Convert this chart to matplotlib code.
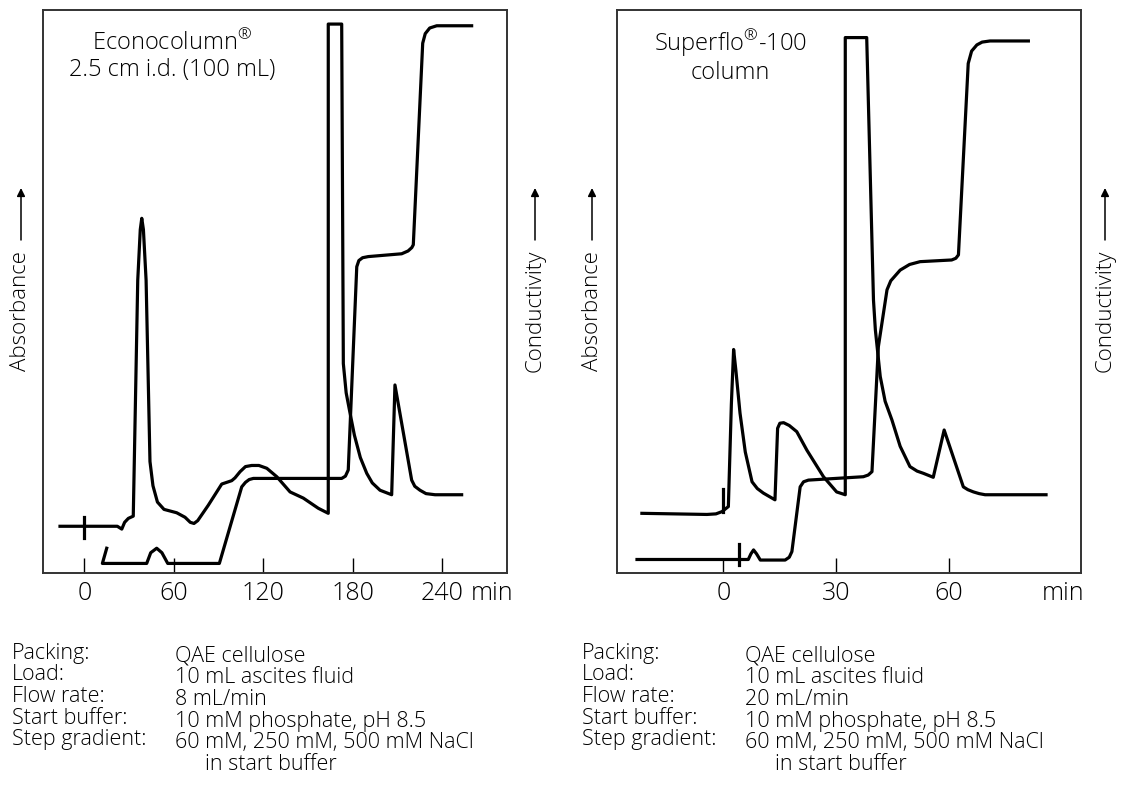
import numpy as np
import matplotlib
matplotlib.use("Agg")
import matplotlib.pyplot as plt

plt.rcParams['font.family'] = ['Open Sans', 'DejaVu Sans']
plt.rcParams['font.weight'] = 'light'
plt.rcParams['mathtext.fontset'] = 'custom'
plt.rcParams['mathtext.rm'] = 'Open Sans:light'

# ---------------------------------------------------------------
# data (time in min, signal in % of axis)
# ---------------------------------------------------------------
# Econocolumn
econo_abs_t = [-16.3, 22.1, 25.1, 27.0, 29.5, 32.8, 35.8, 37.5, 38.5, 39.6, 41.4, 44.0, 46.0, 49.0,
               53.4, 61.9, 67.5, 71.0, 73.5, 76.0, 83.0, 92.1, 98.8, 101.0, 104.4, 108.0, 112.2,
               117.0, 122.3, 129.0, 137.9, 146.8, 156.8, 163.5,
               163.5, 172.5, 173.4, 173.6, 175.5, 178.1, 181.0, 185.0, 189.3, 193.0, 198.2, 206.0,
               208.2, 219.4, 221.5, 225.0, 229.0, 235.1, 252.9]
econo_abs = [8.3, 8.3, 7.8, 9.0, 9.7, 10.1, 52.0, 61.0, 63.0, 61.0, 52.0, 19.8, 15.5, 12.6,
             11.3, 10.7, 9.9, 9.0, 8.8, 9.3, 12.0, 15.8, 16.4, 16.9, 18.0, 18.9, 19.1,
             19.1, 18.6, 17.1, 14.4, 13.3, 11.5, 10.6,
             97.5, 97.5, 48.5, 37.2, 32.0, 28.4, 24.5, 20.5, 17.7, 16.0, 14.7, 13.9,
             33.4, 16.5, 15.4, 14.7, 14.1, 13.9, 13.9]

econo_cond_t = [15.0, 12.1, 41.8, 44.5, 48.5, 52.0, 55.9, 90.5, 105.5, 108.0, 110.5, 113.3,
                172.5, 175.0, 176.9, 182.6, 184.0, 186.5, 190.3, 212.7, 217.0, 219.5,
                220.5, 226.8, 228.5, 231.5, 236.2, 259.6]
econo_cond = [4.4, 1.7, 1.7, 3.6, 4.4, 3.6, 1.7, 1.7, 15.3, 16.1, 16.6, 16.8,
              16.8, 17.2, 18.3, 54.4, 55.5, 56.0, 56.2, 56.7, 57.2, 57.8,
              58.3, 94.1, 95.8, 96.8, 97.2, 97.2]

# Superflo-100
super_abs_t = [-21.7, -4.4, -2.0, -0.4, 1.3, 2.1, 2.7, 3.3, 4.4, 5.8, 7.6, 9.0, 10.6, 13.7,
               14.4, 15.0, 16.0, 17.5, 19.5, 22.2, 26.6, 30.1, 32.4,
               32.4, 38.1, 39.9, 40.4, 41.7, 43.0, 44.8, 47.0, 49.6, 51.5, 53.2, 55.8,
               58.7, 63.8, 65.0, 66.5, 68.0, 69.6, 85.8]
super_abs = [10.6, 10.4, 10.5, 10.9, 11.8, 30.0, 39.7, 36.0, 28.4, 21.5, 16.2, 15.0, 14.2, 13.0,
             25.7, 26.6, 26.7, 26.2, 25.1, 21.8, 17.1, 14.4, 13.9,
             95.1, 95.1, 48.5, 43.2, 34.9, 30.5, 27.2, 22.5, 18.9, 18.1, 17.7, 17.0,
             25.4, 15.3, 14.8, 14.4, 14.1, 13.9, 13.9]

super_cond_t = [-23.0, 6.6, 7.3, 8.0, 8.8, 9.8, 16.4, 17.5, 18.2, 20.4, 21.3, 22.6,
                37.2, 38.5, 39.5, 41.2, 43.5, 44.5, 47.0, 49.5, 52.3, 60.7,
                61.8, 62.5, 65.1, 66.0, 67.4, 68.8, 70.9, 81.1]
super_cond = [2.4, 2.4, 3.4, 4.1, 3.4, 2.3, 2.3, 2.8, 3.8, 15.3, 16.2, 16.5,
              17.1, 17.4, 18.0, 40.2, 50.3, 51.9, 53.8, 54.8, 55.3, 55.6,
              55.9, 56.5, 90.5, 92.7, 93.8, 94.3, 94.5, 94.5]

# sample injection marks: (time, y from, y to)
econo_marks = [(0, 6.3, 10.0)]
super_marks = [(0, 10.9, 14.9), (4.2, 1.4, 5.1)]

econo_ticks = [0, 60, 120, 180, 240]
super_ticks = [0, 30, 60]

econo_title = "Econocolumn$^{®}$\n2.5 cm i.d. (100 mL)"
super_title = "Superflo$^{®}$-100\ncolumn"

cond_labels = ["Packing:", "Load:", "Flow rate:", "Start buffer:", "Step gradient:"]
econo_values = ["QAE cellulose", "10 mL ascites fluid", "8 mL/min",
                "10 mM phosphate, pH 8.5", "60 mM, 250 mM, 500 mM NaCl"]
super_values = ["QAE cellulose", "10 mL ascites fluid", "20 mL/min",
                "10 mM phosphate, pH 8.5", "60 mM, 250 mM, 500 mM NaCl"]

W, H = 1121, 796
fig = plt.figure(figsize=(W / 100, H / 100), dpi=100)


def panel(left_px, right_px, xlim, ticks, abs_t, abs_y, cond_t, cond_y, marks, title, title_x):
    ax = fig.add_axes([left_px / W, 1 - 573 / H, (right_px - left_px) / W, 563 / H])
    ax.plot(abs_t, abs_y, color='black', lw=2.3, solid_joinstyle='round')
    ax.plot(cond_t, cond_y, color='black', lw=2.3, solid_joinstyle='round')
    for t, y0, y1 in marks:
        ax.plot([t, t], [y0, y1], color='black', lw=2.3)
    ax.set_xlim(*xlim)
    ax.set_ylim(0, 100)
    ax.set_xticks(ticks)
    ax.set_xticklabels([str(t) for t in ticks])
    ax.set_yticks([])
    ax.tick_params(axis='x', direction='in', length=11, width=1, labelsize=18, pad=6)
    for s in ax.spines.values():
        s.set_color('#333333')
        s.set_linewidth(1.4)
    fig.text(title_x / W, 1 - 56 / H, title, ha='center', va='center',
             fontsize=17, linespacing=1.1)
    return ax


panel(43, 507, (-27.7, 283.3), econo_ticks, econo_abs_t, econo_abs, econo_cond_t, econo_cond,
      econo_marks, econo_title, 172)
panel(616.7, 1081, (-28.4, 95.1), super_ticks, super_abs_t, super_abs, super_cond_t, super_cond,
      super_marks, super_title, 730)

# unit labels after the last tick
fig.text(492 / W, 1 - 593 / H, "min", ha='center', va='center', fontsize=18)
fig.text(1063 / W, 1 - 593 / H, "min", ha='center', va='center', fontsize=18)

# axis labels with arrows
for x, lab in [(21, "Absorbance"), (535, "Conductivity"), (592, "Absorbance"), (1105, "Conductivity")]:
    fig.text(x / W, 1 - 311 / H, lab, rotation=90, ha='center', va='center', fontsize=16)
    fig.axes[0].annotate('', xy=(x, H - 188), xytext=(x, H - 240), xycoords='figure pixels',
                         textcoords='figure pixels',
                         arrowprops=dict(arrowstyle='-|>', lw=1.1, color='black',
                                         mutation_scale=12, shrinkA=0, shrinkB=0))

# run conditions
for x_lab, x_val, values in [(12, 175, econo_values), (582, 745, super_values)]:
    for i, (lab, val) in enumerate(zip(cond_labels, values)):
        y = 653 + i * 21.7
        fig.text(x_lab / W, 1 - y / H, lab, ha='left', va='center', fontsize=15.5)
        fig.text(x_val / W, 1 - (y + 3) / H, val, ha='left', va='center', fontsize=15.5)
    fig.text((x_val + 30) / W, 1 - (653 + 5 * 21.7 + 3) / H, "in start buffer",
             ha='left', va='center', fontsize=15.5)

fig.savefig("out.png", dpi=100)
